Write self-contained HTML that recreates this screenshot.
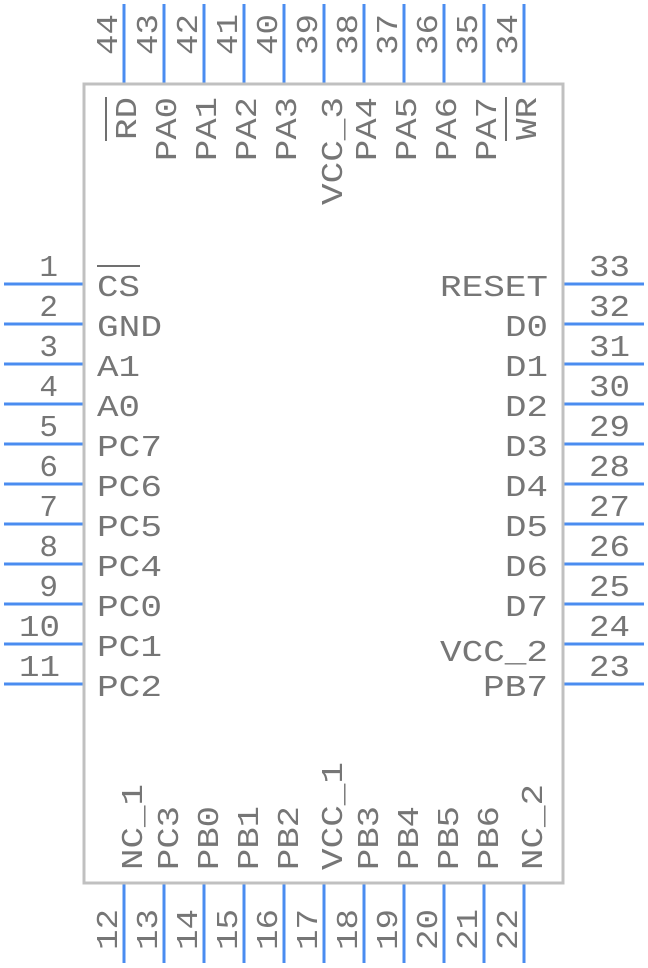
<!DOCTYPE html>
<html><head><meta charset="utf-8"><style>html,body{margin:0;padding:0;background:#fff}svg{display:block}</style></head>
<body>
<svg width="648" height="968" xmlns="http://www.w3.org/2000/svg" font-family="Liberation Mono, monospace" font-size="31" fill="#767676">
<g stroke="#4a8cf0" stroke-width="3">
<line x1="4" y1="284" x2="84" y2="284"/><line x1="4" y1="324" x2="84" y2="324"/><line x1="4" y1="364" x2="84" y2="364"/><line x1="4" y1="404" x2="84" y2="404"/><line x1="4" y1="444" x2="84" y2="444"/><line x1="4" y1="484" x2="84" y2="484"/><line x1="4" y1="524" x2="84" y2="524"/><line x1="4" y1="564" x2="84" y2="564"/><line x1="4" y1="604" x2="84" y2="604"/><line x1="4" y1="644" x2="84" y2="644"/><line x1="4" y1="684" x2="84" y2="684"/>
<line x1="563" y1="284" x2="644" y2="284"/><line x1="563" y1="324" x2="644" y2="324"/><line x1="563" y1="364" x2="644" y2="364"/><line x1="563" y1="404" x2="644" y2="404"/><line x1="563" y1="444" x2="644" y2="444"/><line x1="563" y1="484" x2="644" y2="484"/><line x1="563" y1="524" x2="644" y2="524"/><line x1="563" y1="564" x2="644" y2="564"/><line x1="563" y1="604" x2="644" y2="604"/><line x1="563" y1="644" x2="644" y2="644"/><line x1="563" y1="684" x2="644" y2="684"/>
<line x1="124" y1="4" x2="124" y2="84"/><line x1="164" y1="4" x2="164" y2="84"/><line x1="204" y1="4" x2="204" y2="84"/><line x1="244" y1="4" x2="244" y2="84"/><line x1="284" y1="4" x2="284" y2="84"/><line x1="324" y1="4" x2="324" y2="84"/><line x1="364" y1="4" x2="364" y2="84"/><line x1="404" y1="4" x2="404" y2="84"/><line x1="444" y1="4" x2="444" y2="84"/><line x1="484" y1="4" x2="484" y2="84"/><line x1="524" y1="4" x2="524" y2="84"/>
<line x1="124" y1="883" x2="124" y2="963"/><line x1="164" y1="883" x2="164" y2="963"/><line x1="204" y1="883" x2="204" y2="963"/><line x1="244" y1="883" x2="244" y2="963"/><line x1="284" y1="883" x2="284" y2="963"/><line x1="324" y1="883" x2="324" y2="963"/><line x1="364" y1="883" x2="364" y2="963"/><line x1="404" y1="883" x2="404" y2="963"/><line x1="444" y1="883" x2="444" y2="963"/><line x1="484" y1="883" x2="484" y2="963"/><line x1="524" y1="883" x2="524" y2="963"/>
</g>
<rect x="84" y="84" width="479" height="799" fill="none" stroke="#c0c0c0" stroke-width="3"/>
<g stroke="#707070" stroke-width="2">
<line x1="97" y1="266" x2="140" y2="266"/>
<line x1="106" y1="97" x2="106" y2="141"/>
<line x1="506" y1="97" x2="506" y2="141"/>
</g>
<g text-anchor="end">
<text x="58" y="276">1</text><text x="58" y="316">2</text><text x="58" y="356">3</text><text x="58" y="396">4</text><text x="58" y="436">5</text><text x="58" y="476">6</text><text x="58" y="516">7</text><text x="58" y="556">8</text><text x="58" y="596">9</text>
<text x="60" y="636" textLength="41" lengthAdjust="spacingAndGlyphs">10</text>
<text x="60" y="676" textLength="41" lengthAdjust="spacingAndGlyphs">11</text>
</g>
<g>
<text x="97" y="296" textLength="43" lengthAdjust="spacingAndGlyphs">CS</text>
<text x="97" y="336" textLength="65" lengthAdjust="spacingAndGlyphs">GND</text>
<text x="97" y="376" textLength="43" lengthAdjust="spacingAndGlyphs">A1</text>
<text x="97" y="416" textLength="43" lengthAdjust="spacingAndGlyphs">A0</text>
<text x="97" y="456" textLength="65" lengthAdjust="spacingAndGlyphs">PC7</text>
<text x="97" y="496" textLength="65" lengthAdjust="spacingAndGlyphs">PC6</text>
<text x="97" y="536" textLength="65" lengthAdjust="spacingAndGlyphs">PC5</text>
<text x="97" y="576" textLength="65" lengthAdjust="spacingAndGlyphs">PC4</text>
<text x="97" y="616" textLength="65" lengthAdjust="spacingAndGlyphs">PC0</text>
<text x="97" y="656" textLength="65" lengthAdjust="spacingAndGlyphs">PC1</text>
<text x="97" y="696" textLength="65" lengthAdjust="spacingAndGlyphs">PC2</text>
</g>
<g>
<text x="589" y="276" textLength="41" lengthAdjust="spacingAndGlyphs">33</text>
<text x="589" y="316" textLength="41" lengthAdjust="spacingAndGlyphs">32</text>
<text x="589" y="356" textLength="41" lengthAdjust="spacingAndGlyphs">31</text>
<text x="589" y="396" textLength="41" lengthAdjust="spacingAndGlyphs">30</text>
<text x="589" y="436" textLength="41" lengthAdjust="spacingAndGlyphs">29</text>
<text x="589" y="476" textLength="41" lengthAdjust="spacingAndGlyphs">28</text>
<text x="589" y="516" textLength="41" lengthAdjust="spacingAndGlyphs">27</text>
<text x="589" y="556" textLength="41" lengthAdjust="spacingAndGlyphs">26</text>
<text x="589" y="596" textLength="41" lengthAdjust="spacingAndGlyphs">25</text>
<text x="589" y="636" textLength="41" lengthAdjust="spacingAndGlyphs">24</text>
<text x="589" y="676" textLength="41" lengthAdjust="spacingAndGlyphs">23</text>
</g>
<g text-anchor="end">
<text x="548" y="296" textLength="108" lengthAdjust="spacingAndGlyphs">RESET</text>
<text x="548" y="336" textLength="43" lengthAdjust="spacingAndGlyphs">D0</text>
<text x="548" y="376" textLength="43" lengthAdjust="spacingAndGlyphs">D1</text>
<text x="548" y="416" textLength="43" lengthAdjust="spacingAndGlyphs">D2</text>
<text x="548" y="456" textLength="43" lengthAdjust="spacingAndGlyphs">D3</text>
<text x="548" y="496" textLength="43" lengthAdjust="spacingAndGlyphs">D4</text>
<text x="548" y="536" textLength="43" lengthAdjust="spacingAndGlyphs">D5</text>
<text x="548" y="576" textLength="43" lengthAdjust="spacingAndGlyphs">D6</text>
<text x="548" y="616" textLength="43" lengthAdjust="spacingAndGlyphs">D7</text>
<text x="548" y="661" textLength="108" lengthAdjust="spacingAndGlyphs">VCC_2</text>
<text x="548" y="696" textLength="65" lengthAdjust="spacingAndGlyphs">PB7</text>
</g>
<g text-anchor="end">
<text transform="translate(117,14) rotate(-90)" textLength="41" lengthAdjust="spacingAndGlyphs">44</text>
<text transform="translate(157,14) rotate(-90)" textLength="41" lengthAdjust="spacingAndGlyphs">43</text>
<text transform="translate(197,14) rotate(-90)" textLength="41" lengthAdjust="spacingAndGlyphs">42</text>
<text transform="translate(237,14) rotate(-90)" textLength="41" lengthAdjust="spacingAndGlyphs">41</text>
<text transform="translate(277,14) rotate(-90)" textLength="41" lengthAdjust="spacingAndGlyphs">40</text>
<text transform="translate(317,14) rotate(-90)" textLength="41" lengthAdjust="spacingAndGlyphs">39</text>
<text transform="translate(357,14) rotate(-90)" textLength="41" lengthAdjust="spacingAndGlyphs">38</text>
<text transform="translate(397,14) rotate(-90)" textLength="41" lengthAdjust="spacingAndGlyphs">37</text>
<text transform="translate(437,14) rotate(-90)" textLength="41" lengthAdjust="spacingAndGlyphs">36</text>
<text transform="translate(477,14) rotate(-90)" textLength="41" lengthAdjust="spacingAndGlyphs">35</text>
<text transform="translate(517,14) rotate(-90)" textLength="41" lengthAdjust="spacingAndGlyphs">34</text>
</g>
<g text-anchor="end">
<text transform="translate(136,97) rotate(-90)" textLength="43" lengthAdjust="spacingAndGlyphs">RD</text>
<text transform="translate(176,97) rotate(-90)" textLength="64" lengthAdjust="spacingAndGlyphs">PA0</text>
<text transform="translate(216,97) rotate(-90)" textLength="64" lengthAdjust="spacingAndGlyphs">PA1</text>
<text transform="translate(256,97) rotate(-90)" textLength="64" lengthAdjust="spacingAndGlyphs">PA2</text>
<text transform="translate(296,97) rotate(-90)" textLength="64" lengthAdjust="spacingAndGlyphs">PA3</text>
<text transform="translate(342,97) rotate(-90)" textLength="108" lengthAdjust="spacingAndGlyphs">VCC_3</text>
<text transform="translate(376,97) rotate(-90)" textLength="64" lengthAdjust="spacingAndGlyphs">PA4</text>
<text transform="translate(416,97) rotate(-90)" textLength="64" lengthAdjust="spacingAndGlyphs">PA5</text>
<text transform="translate(456,97) rotate(-90)" textLength="64" lengthAdjust="spacingAndGlyphs">PA6</text>
<text transform="translate(496,97) rotate(-90)" textLength="64" lengthAdjust="spacingAndGlyphs">PA7</text>
<text transform="translate(536,97) rotate(-90)" textLength="43" lengthAdjust="spacingAndGlyphs">WR</text>
</g>
<g>
<text transform="translate(142,870) rotate(-90)" textLength="86" lengthAdjust="spacingAndGlyphs">NC_1</text>
<text transform="translate(178,870) rotate(-90)" textLength="64" lengthAdjust="spacingAndGlyphs">PC3</text>
<text transform="translate(218,870) rotate(-90)" textLength="64" lengthAdjust="spacingAndGlyphs">PB0</text>
<text transform="translate(258,870) rotate(-90)" textLength="64" lengthAdjust="spacingAndGlyphs">PB1</text>
<text transform="translate(298,870) rotate(-90)" textLength="64" lengthAdjust="spacingAndGlyphs">PB2</text>
<text transform="translate(342,870) rotate(-90)" textLength="108" lengthAdjust="spacingAndGlyphs">VCC_1</text>
<text transform="translate(378,870) rotate(-90)" textLength="64" lengthAdjust="spacingAndGlyphs">PB3</text>
<text transform="translate(418,870) rotate(-90)" textLength="64" lengthAdjust="spacingAndGlyphs">PB4</text>
<text transform="translate(458,870) rotate(-90)" textLength="64" lengthAdjust="spacingAndGlyphs">PB5</text>
<text transform="translate(498,870) rotate(-90)" textLength="64" lengthAdjust="spacingAndGlyphs">PB6</text>
<text transform="translate(542,870) rotate(-90)" textLength="86" lengthAdjust="spacingAndGlyphs">NC_2</text>
</g>
<g>
<text transform="translate(117,950) rotate(-90)" textLength="41" lengthAdjust="spacingAndGlyphs">12</text>
<text transform="translate(157,950) rotate(-90)" textLength="41" lengthAdjust="spacingAndGlyphs">13</text>
<text transform="translate(197,950) rotate(-90)" textLength="41" lengthAdjust="spacingAndGlyphs">14</text>
<text transform="translate(237,950) rotate(-90)" textLength="41" lengthAdjust="spacingAndGlyphs">15</text>
<text transform="translate(277,950) rotate(-90)" textLength="41" lengthAdjust="spacingAndGlyphs">16</text>
<text transform="translate(317,950) rotate(-90)" textLength="41" lengthAdjust="spacingAndGlyphs">17</text>
<text transform="translate(357,950) rotate(-90)" textLength="41" lengthAdjust="spacingAndGlyphs">18</text>
<text transform="translate(397,950) rotate(-90)" textLength="41" lengthAdjust="spacingAndGlyphs">19</text>
<text transform="translate(437,950) rotate(-90)" textLength="41" lengthAdjust="spacingAndGlyphs">20</text>
<text transform="translate(477,950) rotate(-90)" textLength="41" lengthAdjust="spacingAndGlyphs">21</text>
<text transform="translate(517,950) rotate(-90)" textLength="41" lengthAdjust="spacingAndGlyphs">22</text>
</g>
</svg>
</body></html>
